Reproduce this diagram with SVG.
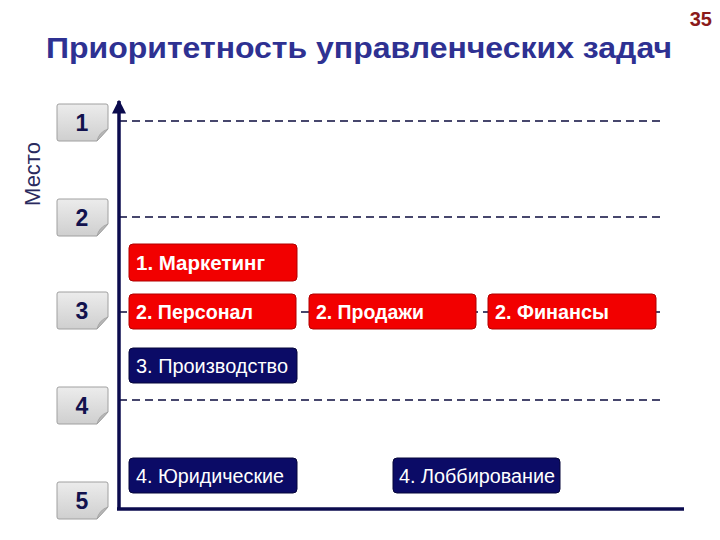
<svg xmlns="http://www.w3.org/2000/svg" width="720" height="540" viewBox="0 0 720 540">
<defs>
<linearGradient id="tabg" x1="0" y1="0" x2="0" y2="1">
<stop offset="0" stop-color="#ececec"/>
<stop offset="1" stop-color="#cfcfcf"/>
</linearGradient>
<marker id="arr" viewBox="0 0 10 10" refX="9" refY="5" markerWidth="4" markerHeight="4.5" orient="auto" markerUnits="strokeWidth">
<path d="M0,0 L10,5 L0,10 z" fill="#0b0b4e"/>
</marker>
<style>
.tab path.b{fill:url(#tabg);stroke:#a0a0a0;stroke-width:1}
.tab path.f{fill:#b8b8b8;stroke:#a0a0a0;stroke-width:0.8}
.tab text{font-family:"Liberation Sans",Arial,sans-serif;font-weight:bold;font-size:23px;fill:#12124e;text-anchor:middle}
.red rect{fill:#f20000;stroke:#b00000;stroke-width:1}
.red text{font-family:"Liberation Sans",Arial,sans-serif;font-weight:bold;font-size:20px;fill:#ffffff}
.navy rect{fill:#0b0b66;stroke:#06063a;stroke-width:1}
.navy text{font-family:"Liberation Sans",Arial,sans-serif;font-size:20px;fill:#ffffff}
.dash{stroke:#0b0b3e;stroke-width:1.6;stroke-dasharray:8 5;fill:none}
</style>
</defs>
<rect width="720" height="540" fill="#ffffff"/>
<text x="359" y="58" text-anchor="middle" font-family="Liberation Sans, Arial, sans-serif" font-weight="bold" font-size="30" fill="#2e3192" textLength="626" lengthAdjust="spacingAndGlyphs">Приоритетность управленческих задач</text>
<text x="712" y="26" text-anchor="end" font-family="Liberation Sans, Arial, sans-serif" font-weight="bold" font-size="20" fill="#8b1a1a">35</text>
<text transform="translate(40,174) rotate(-90)" text-anchor="middle" font-family="Liberation Sans, Arial, sans-serif" font-size="22" fill="#2a2a5e">Место</text>

<g id="connectors">
<line class="dash" x1="119" y1="121" x2="660" y2="121"/>
<line class="dash" x1="119" y1="217" x2="660" y2="217"/>
<line class="dash" x1="119" y1="312" x2="660" y2="312"/>
<line class="dash" x1="119" y1="400" x2="660" y2="400"/>
<line x1="119" y1="510" x2="119" y2="101" stroke="#0b0b4e" stroke-width="3.5" marker-end="url(#arr)"/>
<line x1="117" y1="509" x2="684" y2="509" stroke="#0b0b4e" stroke-width="3.5"/>
</g>

<g id="tab1" class="tab"><path class="b" d="M57,106 Q57,104 59,104 H106 Q108,104 108,106 V129 L97,141 H59 Q57,141 57,139 Z"/><path class="f" d="M108,129 L97,141 Q99,132 108,129 Z"/><text x="82" y="131">1</text></g>
<g id="tab2" class="tab"><path class="b" d="M57,201 Q57,199 59,199 H106 Q108,199 108,201 V224 L97,236 H59 Q57,236 57,234 Z"/><path class="f" d="M108,224 L97,236 Q99,227 108,224 Z"/><text x="82" y="226">2</text></g>
<g id="tab3" class="tab"><path class="b" d="M57,294 Q57,292 59,292 H106 Q108,292 108,294 V317 L97,329 H59 Q57,329 57,327 Z"/><path class="f" d="M108,317 L97,329 Q99,320 108,317 Z"/><text x="82" y="319">3</text></g>
<g id="tab4" class="tab"><path class="b" d="M57,389 Q57,387 59,387 H106 Q108,387 108,389 V412 L97,424 H59 Q57,424 57,422 Z"/><path class="f" d="M108,412 L97,424 Q99,415 108,412 Z"/><text x="82" y="414">4</text></g>
<g id="tab5" class="tab"><path class="b" d="M57,484 Q57,482 59,482 H106 Q108,482 108,484 V507 L97,519 H59 Q57,519 57,517 Z"/><path class="f" d="M108,507 L97,519 Q99,510 108,507 Z"/><text x="82" y="509">5</text></g>

<g id="marketing" class="red"><rect x="129" y="244" width="168" height="37" rx="4"/><text x="136" y="270" textLength="129" lengthAdjust="spacingAndGlyphs">1. Маркетинг</text></g>
<g id="personal" class="red"><rect x="129" y="294" width="167" height="35" rx="4"/><text x="136" y="319" textLength="117" lengthAdjust="spacingAndGlyphs">2. Персонал</text></g>
<g id="prodazhi" class="red"><rect x="309" y="294" width="167" height="35" rx="4"/><text x="316" y="319" textLength="108" lengthAdjust="spacingAndGlyphs">2. Продажи</text></g>
<g id="finansy" class="red"><rect x="488" y="294" width="168" height="35" rx="4"/><text x="495" y="319" textLength="114" lengthAdjust="spacingAndGlyphs">2. Финансы</text></g>
<g id="proizvodstvo" class="navy"><rect x="129" y="348" width="168" height="35" rx="4"/><text x="136" y="373" textLength="152" lengthAdjust="spacingAndGlyphs">3. Производство</text></g>
<g id="yuridicheskie" class="navy"><rect x="129" y="458" width="168" height="35" rx="4"/><text x="136" y="483" textLength="148" lengthAdjust="spacingAndGlyphs">4. Юридические</text></g>
<g id="lobbirovanie" class="navy"><rect x="393" y="458" width="167" height="35" rx="4"/><text x="399" y="483" textLength="156" lengthAdjust="spacingAndGlyphs">4. Лоббирование</text></g>
</svg>
